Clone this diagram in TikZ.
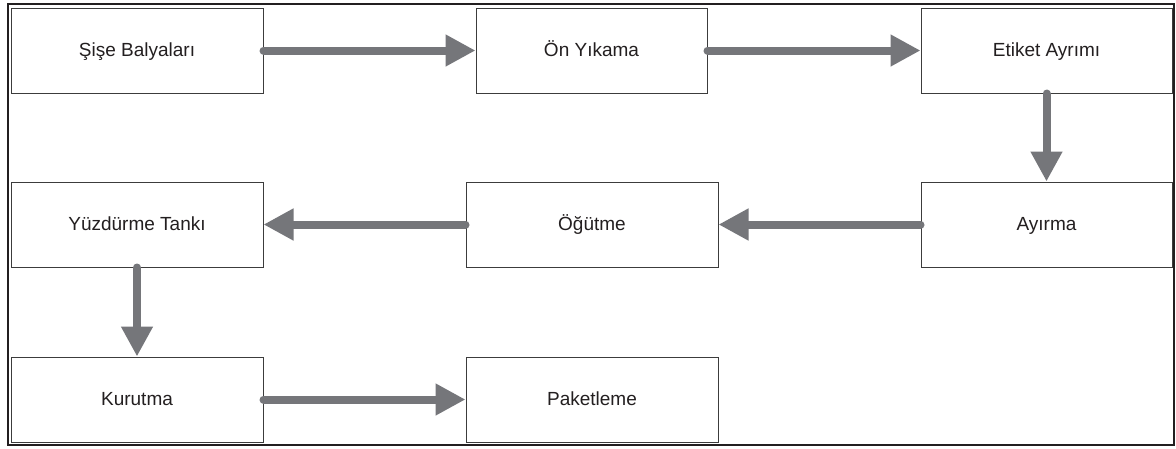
\documentclass[tikz,border=0pt]{standalone}
\usepackage{fontspec}
\setmainfont{Liberation Sans}
\usetikzlibrary{arrows.meta}
\definecolor{arrowgray}{HTML}{75767A}
\definecolor{ink}{HTML}{231F20}
\definecolor{boxline}{HTML}{3C3C3C}
\tikzset{
  stepbox/.style={draw=boxline, line width=1pt, fill=white, inner sep=0pt,
    text=ink, font=\fontsize{19}{22}\selectfont,
    text height=13.5pt, text depth=2.5pt},
  flow/.style={draw=arrowgray, line width=8pt, line cap=round,
    -{Triangle[length=30pt,width=30pt]}}
}
\begin{document}
\begin{tikzpicture}[x=1pt,y=-1pt]
\useasboundingbox (0,0) rectangle (1176,448);
\fill[white] (0,0) rectangle (1176,448);
\draw[ink, line width=2pt] (7.5,3.5) rectangle (1173.5,444.5);
% boxes: centres in pixel coordinates
\node[stepbox, minimum width=252pt, minimum height=85pt] (b1) at (137,50.5) {Şişe Balyaları};
\node[stepbox, minimum width=231pt, minimum height=85pt] (b2) at (591.5,50.5) {Ön Yıkama};
\node[stepbox, minimum width=251pt, minimum height=85pt] (b3) at (1046.5,50.5) {Etiket Ayrımı};
\node[stepbox, minimum width=252pt, minimum height=85pt] (b4) at (137,224.5) {Yüzdürme Tankı};
\node[stepbox, minimum width=252pt, minimum height=85pt] (b5) at (592,224.5) {Öğütme};
\node[stepbox, minimum width=251pt, minimum height=85pt] (b6) at (1046.5,224.5) {Ayırma};
\node[stepbox, minimum width=252pt, minimum height=85pt] (b7) at (137,399.5) {Kurutma};
\node[stepbox, minimum width=252pt, minimum height=85pt] (b8) at (592,399.5) {Paketleme};
% connectors
\draw[flow] (b1.east) -- (b2.west);
\draw[flow] (b2.east) -- (b3.west);
\draw[flow] (b3.south) -- (b6.north);
\draw[flow] (b6.west) -- (b5.east);
\draw[flow] (b5.west) -- (b4.east);
\draw[flow] (b4.south) -- (b7.north);
\draw[flow] (b7.east) -- (b8.west);
\end{tikzpicture}
\end{document}
